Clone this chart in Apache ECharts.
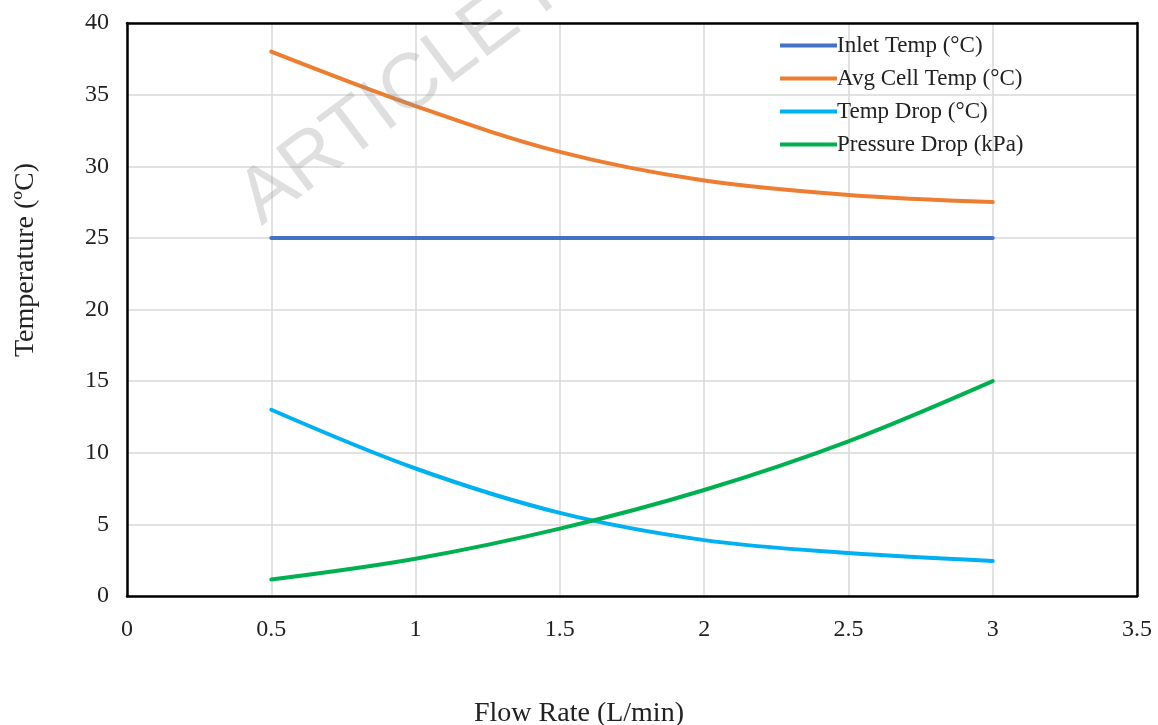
<!DOCTYPE html>
<html>
<head>
<meta charset="utf-8">
<script src="https://cdn.jsdelivr.net/npm/echarts@6/dist/echarts.min.js"></script>
<style>
  html, body { margin: 0; padding: 0; background: #fff; }
  #chart { width: 1158px; height: 725px; }
</style>
</head>
<body>
<div id="chart"></div>
<script>
// 数据
var flowRates = [0.5, 1, 1.5, 2, 2.5, 3];
var inletTemp = [25, 25, 25, 25, 25, 25];
var avgCellTemp = [38, 34.2, 31, 29, 28, 27.5];
var tempDrop = [13, 8.9, 5.8, 3.9, 3.0, 2.45];
var pressureDrop = [1.15, 2.6, 4.7, 7.4, 10.8, 15];
var seriesNames = ['Inlet Temp (°C)', 'Avg Cell Temp (°C)', 'Temp Drop (°C)', 'Pressure Drop (kPa)'];
var seriesColors = ['#4472C4', '#ED7D31', '#00B0F0', '#00B050'];

var font = '"Liberation Serif", "Times New Roman", serif';

function pairs(ys) {
    return flowRates.map(function (x, i) { return [x, ys[i]]; });
}

var myChart = echarts.init(document.getElementById('chart'));

var allData = [inletTemp, avgCellTemp, tempDrop, pressureDrop];
var series = allData.map(function (d, i) {
    return {
        name: seriesNames[i],
        type: 'line',
        data: pairs(d),
        smooth: 0.35,
        showSymbol: false,
        lineStyle: { width: 4, color: seriesColors[i], cap: 'round' },
        itemStyle: { color: seriesColors[i] }
    };
});

// 外框: 上方和右侧的轴只画黑线
var frameLine = { show: true, onZero: false, lineStyle: { color: '#000', width: 2.5 } };

var option = {
    animation: false,
    backgroundColor: '#fff',
    textStyle: { fontFamily: font },
    grid: { left: 127, right: 21, top: 23, bottom: 129 },
    legend: {
        orient: 'vertical',
        left: 775,
        top: 29,
        icon: 'rect',
        itemWidth: 57,
        itemHeight: 4,
        itemGap: 10,
        data: seriesNames,
        textStyle: { fontFamily: font, fontSize: 23, color: '#222', padding: [0, 0, 0, -5] }
    },
    xAxis: [{
        type: 'value',
        min: 0, max: 3.5, interval: 0.5,
        axisLine: frameLine,
        axisTick: { show: false },
        axisLabel: { fontSize: 24, color: '#222', margin: 22, fontFamily: font },
        splitLine: { show: true, lineStyle: { color: '#d9d9d9', width: 1.5 } }
    }, {
        type: 'value',
        position: 'top',
        min: 0, max: 3.5, interval: 0.5,
        axisLine: frameLine,
        axisTick: { show: false },
        axisLabel: { show: false },
        splitLine: { show: false }
    }],
    yAxis: [{
        type: 'value',
        min: 0, max: 40, interval: 5,
        axisLine: frameLine,
        axisTick: { show: false },
        axisLabel: { fontSize: 24, color: '#222', margin: 18, fontFamily: font },
        splitLine: { show: true, lineStyle: { color: '#d9d9d9', width: 1.5 } }
    }, {
        type: 'value',
        position: 'right',
        min: 0, max: 40, interval: 5,
        axisLine: frameLine,
        axisTick: { show: false },
        axisLabel: { show: false },
        splitLine: { show: false }
    }],
    graphic: [
        {
            // 纵轴标题
            type: 'text',
            left: 12,
            top: 163,
            rotation: Math.PI / 2,
            style: { text: 'Temperature (ºC)', fontSize: 28, fontFamily: font, fill: '#222' }
        },
        {
            // 横轴标题
            type: 'text',
            left: 474,
            top: 700,
            style: { text: 'Flow Rate (L/min)', fontSize: 28, fontFamily: font, fill: '#222' }
        },
        {
            // 水印
            type: 'text',
            x: 272,
            y: 240,
            rotation: 37 * Math.PI / 180,
            z: 100,
            style: {
                text: 'ARTICLE IN PRESS',
                fontSize: 78,
                fontFamily: '"Liberation Sans", Arial, sans-serif',
                fill: 'rgba(150,150,150,0.3)',
                textVerticalAlign: 'bottom'
            }
        }
    ],
    series: series
};
myChart.setOption(option);
</script>
</body>
</html>
